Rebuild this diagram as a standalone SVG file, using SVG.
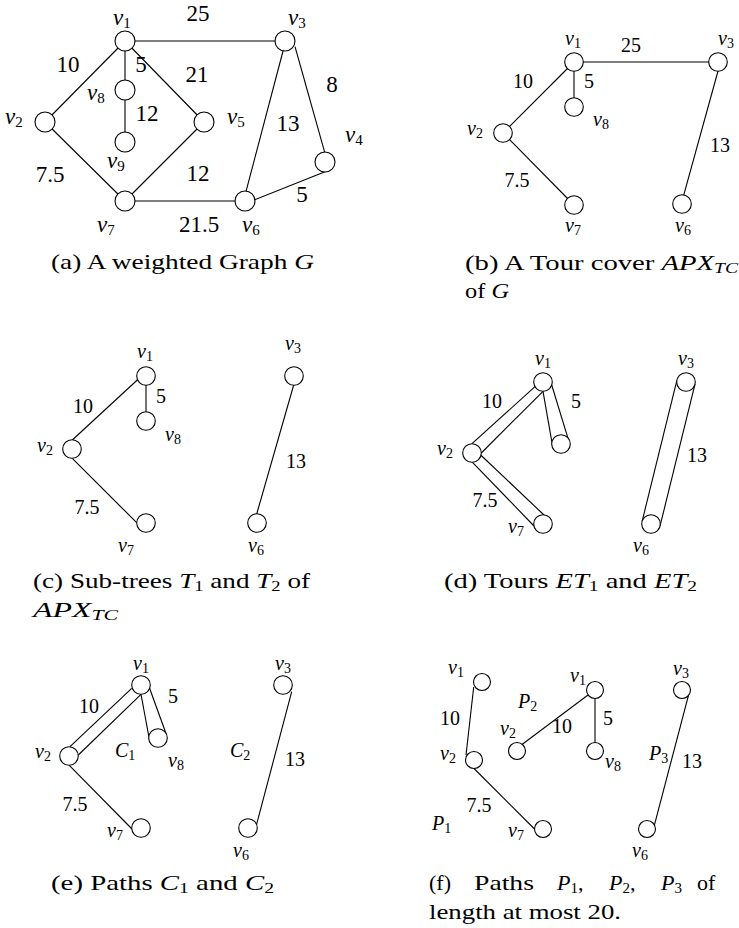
<svg xmlns="http://www.w3.org/2000/svg" width="739" height="928" viewBox="0 0 739 928" font-family="'Liberation Serif', serif">
<style>
.e{stroke:#000;stroke-width:1.1;fill:none}
.n{fill:#fff;stroke:#000;stroke-width:1.1}
text{font-family:'Liberation Serif',serif;fill:#000}
.l{font-size:20px}
.la{font-size:23px}
.i{font-style:italic}
.s{font-size:14px}
.sa{font-size:15px}
.w{text-anchor:middle}
.cap{font-size:22px}
.cs{font-size:15px}
</style>
<rect width="739" height="928" fill="#fff"/>

<!-- Panel (a) -->
<g id="connectors-a">
<line class="e" x1="125" y1="41" x2="45" y2="122"/>
<line class="e" x1="125" y1="41" x2="125" y2="90"/>
<line class="e" x1="125" y1="90" x2="125" y2="142"/>
<line class="e" x1="125" y1="41" x2="204" y2="122"/>
<line class="e" x1="125" y1="41" x2="285" y2="41"/>
<line class="e" x1="45" y1="122" x2="125" y2="201"/>
<line class="e" x1="204" y1="122" x2="125" y2="201"/>
<line class="e" x1="125" y1="201" x2="245" y2="201"/>
<line class="e" x1="283.3" y1="50" x2="245.7" y2="192.7"/>
<line class="e" x1="295" y1="46.7" x2="325" y2="153.3"/>
<line class="e" x1="325" y1="171.7" x2="254" y2="200"/>
<g class="la w">
<text x="198" y="21">25</text>
<text x="68" y="72">10</text>
<text x="141" y="72">5</text>
<text x="197" y="82">21</text>
<text x="332" y="92">8</text>
<text x="147" y="121">12</text>
<text x="288" y="131">13</text>
<text x="50" y="182">7.5</text>
<text x="198" y="181">12</text>
<text x="302" y="202">5</text>
<text x="199" y="232">21.5</text>
</g>
</g>
<g id="a-v1"><circle class="n" cx="125" cy="41" r="10"/><text class="la" x="113" y="25"><tspan class="i">v</tspan><tspan class="sa" dy="3">1</tspan></text></g>
<g id="a-v2"><circle class="n" cx="45" cy="122" r="10"/><text class="la" x="5" y="124"><tspan class="i">v</tspan><tspan class="sa" dy="3">2</tspan></text></g>
<g id="a-v3"><circle class="n" cx="285" cy="41" r="10"/><text class="la" x="288" y="25"><tspan class="i">v</tspan><tspan class="sa" dy="3">3</tspan></text></g>
<g id="a-v4"><circle class="n" cx="325" cy="162" r="10"/><text class="la" x="345" y="142"><tspan class="i">v</tspan><tspan class="sa" dy="3">4</tspan></text></g>
<g id="a-v5"><circle class="n" cx="204" cy="122" r="10"/><text class="la" x="227" y="124"><tspan class="i">v</tspan><tspan class="sa" dy="3">5</tspan></text></g>
<g id="a-v6"><circle class="n" cx="245" cy="201" r="10"/><text class="la" x="242" y="232"><tspan class="i">v</tspan><tspan class="sa" dy="3">6</tspan></text></g>
<g id="a-v7"><circle class="n" cx="125" cy="201" r="10"/><text class="la" x="97" y="232"><tspan class="i">v</tspan><tspan class="sa" dy="3">7</tspan></text></g>
<g id="a-v8"><circle class="n" cx="125" cy="90" r="10"/><text class="la" x="87" y="100"><tspan class="i">v</tspan><tspan class="sa" dy="3">8</tspan></text></g>
<g id="a-v9"><circle class="n" cx="125" cy="142" r="10"/><text class="la" x="107" y="168"><tspan class="i">v</tspan><tspan class="sa" dy="3">9</tspan></text></g>
<text class="cap" x="51" y="269" textLength="263" lengthAdjust="spacingAndGlyphs">(a) A weighted Graph <tspan class="i">G</tspan></text>

<!-- Panel (b) -->
<g id="connectors-b">
<line class="e" x1="574" y1="62" x2="503" y2="133"/>
<line class="e" x1="574" y1="62" x2="574" y2="107"/>
<line class="e" x1="574" y1="62" x2="718" y2="62"/>
<line class="e" x1="503" y1="133" x2="574" y2="205"/>
<line class="e" x1="718.3" y1="70" x2="683.3" y2="196.7"/>
<g class="l w">
<text x="631" y="52">25</text>
<text x="523" y="88">10</text>
<text x="589" y="88">5</text>
<text x="720" y="152">13</text>
<text x="517" y="187">7.5</text>
</g>
</g>
<g id="b-v1"><circle class="n" cx="574" cy="62" r="9.3"/><text class="l" x="565" y="45"><tspan class="i">v</tspan><tspan class="s" dy="3">1</tspan></text></g>
<g id="b-v2"><circle class="n" cx="503" cy="133" r="9.3"/><text class="l" x="467" y="135"><tspan class="i">v</tspan><tspan class="s" dy="3">2</tspan></text></g>
<g id="b-v3"><circle class="n" cx="718" cy="62" r="9.3"/><text class="l" x="718" y="45"><tspan class="i">v</tspan><tspan class="s" dy="3">3</tspan></text></g>
<g id="b-v6"><circle class="n" cx="682" cy="204" r="9.3"/><text class="l" x="675" y="232"><tspan class="i">v</tspan><tspan class="s" dy="3">6</tspan></text></g>
<g id="b-v7"><circle class="n" cx="574" cy="205" r="9.3"/><text class="l" x="565" y="232"><tspan class="i">v</tspan><tspan class="s" dy="3">7</tspan></text></g>
<g id="b-v8"><circle class="n" cx="574" cy="107" r="9.3"/><text class="l" x="593" y="126"><tspan class="i">v</tspan><tspan class="s" dy="3">8</tspan></text></g>
<text class="cap" x="465" y="270" textLength="273" lengthAdjust="spacingAndGlyphs">(b) A Tour cover <tspan class="i">APX</tspan><tspan class="cs i" dy="3">TC</tspan></text>
<text class="cap" x="465" y="298" textLength="44" lengthAdjust="spacingAndGlyphs">of <tspan class="i">G</tspan></text>

<!-- Panel (c) -->
<g id="connectors-c">
<line class="e" x1="137.3" y1="380" x2="72.3" y2="440"/>
<line class="e" x1="146" y1="376" x2="146" y2="421"/>
<line class="e" x1="72.3" y1="458.3" x2="136.7" y2="522.7"/>
<line class="e" x1="293.7" y1="385" x2="256.7" y2="514"/>
<g class="l w">
<text x="83" y="413">10</text>
<text x="161" y="403">5</text>
<text x="296" y="468">13</text>
<text x="87" y="514">7.5</text>
</g>
</g>
<g id="c-v1"><circle class="n" cx="146" cy="376" r="9.3"/><text class="l" x="137" y="358"><tspan class="i">v</tspan><tspan class="s" dy="3">1</tspan></text></g>
<g id="c-v2"><circle class="n" cx="72" cy="449" r="9.3"/><text class="l" x="37" y="452"><tspan class="i">v</tspan><tspan class="s" dy="3">2</tspan></text></g>
<g id="c-v3"><circle class="n" cx="294" cy="376" r="9.3"/><text class="l" x="285" y="350"><tspan class="i">v</tspan><tspan class="s" dy="3">3</tspan></text></g>
<g id="c-v6"><circle class="n" cx="257" cy="523" r="9.3"/><text class="l" x="248" y="552"><tspan class="i">v</tspan><tspan class="s" dy="3">6</tspan></text></g>
<g id="c-v7"><circle class="n" cx="146" cy="523" r="9.3"/><text class="l" x="118" y="552"><tspan class="i">v</tspan><tspan class="s" dy="3">7</tspan></text></g>
<g id="c-v8"><circle class="n" cx="146" cy="421" r="9.3"/><text class="l" x="165" y="441"><tspan class="i">v</tspan><tspan class="s" dy="3">8</tspan></text></g>
<text class="cap" x="33" y="588" textLength="277" lengthAdjust="spacingAndGlyphs">(c) Sub-trees <tspan class="i">T</tspan><tspan class="cs" dy="3">1</tspan><tspan dy="-3"> and </tspan><tspan class="i">T</tspan><tspan class="cs" dy="3">2</tspan><tspan dy="-3"> of</tspan></text>
<text class="cap i" x="33" y="617" textLength="85" lengthAdjust="spacingAndGlyphs">APX<tspan class="cs" dy="3">TC</tspan></text>

<!-- Panel (d) -->
<g id="connectors-d">
<line class="e" x1="535" y1="386.7" x2="472" y2="443.7"/>
<line class="e" x1="543" y1="391.3" x2="481.3" y2="453"/>
<line class="e" x1="543" y1="391.3" x2="552.7" y2="446.7"/>
<line class="e" x1="551.7" y1="385" x2="569" y2="441.7"/>
<line class="e" x1="480.7" y1="455" x2="544" y2="515"/>
<line class="e" x1="472.5" y1="462.3" x2="534" y2="526"/>
<line class="e" x1="695" y1="384.2" x2="660" y2="526.2"/>
<line class="e" x1="677" y1="379.8" x2="642" y2="521.8"/>
<g class="l w">
<text x="492" y="408">10</text>
<text x="576" y="408">5</text>
<text x="697" y="462">13</text>
<text x="485" y="507">7.5</text>
</g>
</g>
<g id="d-v1"><circle class="n" cx="543" cy="382" r="9.3"/><text class="l" x="535" y="365"><tspan class="i">v</tspan><tspan class="s" dy="3">1</tspan></text></g>
<g id="d-v2"><circle class="n" cx="472" cy="453" r="9.3"/><text class="l" x="437" y="455"><tspan class="i">v</tspan><tspan class="s" dy="3">2</tspan></text></g>
<g id="d-v3"><circle class="n" cx="686" cy="382" r="9.3"/><text class="l" x="678" y="365"><tspan class="i">v</tspan><tspan class="s" dy="3">3</tspan></text></g>
<g id="d-v6"><circle class="n" cx="651" cy="524" r="9.3"/><text class="l" x="633" y="552"><tspan class="i">v</tspan><tspan class="s" dy="3">6</tspan></text></g>
<g id="d-v7"><circle class="n" cx="543" cy="524" r="9.3"/><text class="l" x="508" y="533"><tspan class="i">v</tspan><tspan class="s" dy="3">7</tspan></text></g>
<g id="d-v8"><circle class="n" cx="561" cy="444" r="9.3"/></g>
<text class="cap" x="444" y="588" textLength="253" lengthAdjust="spacingAndGlyphs">(d) Tours <tspan class="i">ET</tspan><tspan class="cs" dy="3">1</tspan><tspan dy="-3"> and </tspan><tspan class="i">ET</tspan><tspan class="cs" dy="3">2</tspan></text>

<!-- Panel (e) -->
<g id="connectors-e">
<line class="e" x1="131.7" y1="688.3" x2="70" y2="746.7"/>
<line class="e" x1="141" y1="694.3" x2="78.3" y2="755"/>
<line class="e" x1="141" y1="694.3" x2="149.5" y2="740"/>
<line class="e" x1="149.5" y1="688" x2="166" y2="733.5"/>
<line class="e" x1="69.3" y1="765.3" x2="132" y2="829"/>
<line class="e" x1="291.7" y1="691.7" x2="256" y2="826.7"/>
<g class="l w">
<text x="89" y="713">10</text>
<text x="173" y="703">5</text>
<text x="295" y="766">13</text>
<text x="75" y="811">7.5</text>
</g>
<text class="l" x="115" y="757"><tspan class="i">C</tspan><tspan class="s" dy="3">1</tspan></text>
<text class="l" x="230" y="757"><tspan class="i">C</tspan><tspan class="s" dy="3">2</tspan></text>
</g>
<g id="e-v1"><circle class="n" cx="141" cy="685" r="9.3"/><text class="l" x="133" y="670"><tspan class="i">v</tspan><tspan class="s" dy="3">1</tspan></text></g>
<g id="e-v2"><circle class="n" cx="69" cy="756" r="9.3"/><text class="l" x="35" y="758"><tspan class="i">v</tspan><tspan class="s" dy="3">2</tspan></text></g>
<g id="e-v3"><circle class="n" cx="283" cy="685" r="9.3"/><text class="l" x="275" y="670"><tspan class="i">v</tspan><tspan class="s" dy="3">3</tspan></text></g>
<g id="e-v6"><circle class="n" cx="248" cy="828" r="9.3"/><text class="l" x="233" y="857"><tspan class="i">v</tspan><tspan class="s" dy="3">6</tspan></text></g>
<g id="e-v7"><circle class="n" cx="141" cy="828" r="9.3"/><text class="l" x="107" y="837"><tspan class="i">v</tspan><tspan class="s" dy="3">7</tspan></text></g>
<g id="e-v8"><circle class="n" cx="158" cy="738" r="9.3"/><text class="l" x="168" y="767"><tspan class="i">v</tspan><tspan class="s" dy="3">8</tspan></text></g>
<text class="cap" x="51" y="890" textLength="223" lengthAdjust="spacingAndGlyphs">(e) Paths <tspan class="i">C</tspan><tspan class="cs" dy="3">1</tspan><tspan dy="-3"> and </tspan><tspan class="i">C</tspan><tspan class="cs" dy="3">2</tspan></text>

<!-- Panel (f) -->
<g id="connectors-f">
<line class="e" x1="473.7" y1="687" x2="466" y2="755"/>
<line class="e" x1="474" y1="768.5" x2="534.5" y2="829"/>
<line class="e" x1="588" y1="695" x2="522" y2="744.5"/>
<line class="e" x1="595" y1="698.5" x2="595" y2="742.5"/>
<line class="e" x1="689" y1="693.3" x2="654" y2="826.7"/>
<g class="l w">
<text x="450" y="725">10</text>
<text x="562" y="733">10</text>
<text x="608" y="725">5</text>
<text x="692" y="768">13</text>
<text x="479" y="812">7.5</text>
</g>
<text class="l" x="432" y="830"><tspan class="i">P</tspan><tspan class="s" dy="3">1</tspan></text>
<text class="l" x="518" y="708"><tspan class="i">P</tspan><tspan class="s" dy="3">2</tspan></text>
<text class="l" x="649" y="760"><tspan class="i">P</tspan><tspan class="s" dy="3">3</tspan></text>
</g>
<g id="f-v1a"><circle class="n" cx="482" cy="682" r="8.5"/><text class="l" x="448" y="674"><tspan class="i">v</tspan><tspan class="s" dy="3">1</tspan></text></g>
<g id="f-v2a"><circle class="n" cx="474" cy="760" r="8.5"/><text class="l" x="440" y="760"><tspan class="i">v</tspan><tspan class="s" dy="3">2</tspan></text></g>
<g id="f-v7"><circle class="n" cx="543" cy="829" r="8.5"/><text class="l" x="508" y="837"><tspan class="i">v</tspan><tspan class="s" dy="3">7</tspan></text></g>
<g id="f-v1b"><circle class="n" cx="595" cy="690" r="8.5"/><text class="l" x="570" y="682"><tspan class="i">v</tspan><tspan class="s" dy="3">1</tspan></text></g>
<g id="f-v2b"><circle class="n" cx="517" cy="751" r="8.5"/><text class="l" x="500" y="735"><tspan class="i">v</tspan><tspan class="s" dy="3">2</tspan></text></g>
<g id="f-v8"><circle class="n" cx="595" cy="751" r="8.5"/><text class="l" x="605" y="768"><tspan class="i">v</tspan><tspan class="s" dy="3">8</tspan></text></g>
<g id="f-v3"><circle class="n" cx="682" cy="690" r="8.5"/><text class="l" x="673" y="675"><tspan class="i">v</tspan><tspan class="s" dy="3">3</tspan></text></g>
<g id="f-v6"><circle class="n" cx="647" cy="829" r="8.5"/><text class="l" x="632" y="857"><tspan class="i">v</tspan><tspan class="s" dy="3">6</tspan></text></g>
<g>
<text class="cap" x="429" y="890">(f)</text>
<text class="cap" x="474" y="890" textLength="60" lengthAdjust="spacingAndGlyphs">Paths</text>
<text class="cap" x="557" y="890"><tspan class="i">P</tspan><tspan class="cs" dy="3">1</tspan><tspan dy="-3">,</tspan></text>
<text class="cap" x="609" y="890"><tspan class="i">P</tspan><tspan class="cs" dy="3">2</tspan><tspan dy="-3">,</tspan></text>
<text class="cap" x="661" y="890"><tspan class="i">P</tspan><tspan class="cs" dy="3">3</tspan></text>
<text class="cap" x="697" y="890">of</text>
</g>
<text class="cap" x="429" y="919" textLength="192" lengthAdjust="spacingAndGlyphs">length at most 20.</text>
</svg>
